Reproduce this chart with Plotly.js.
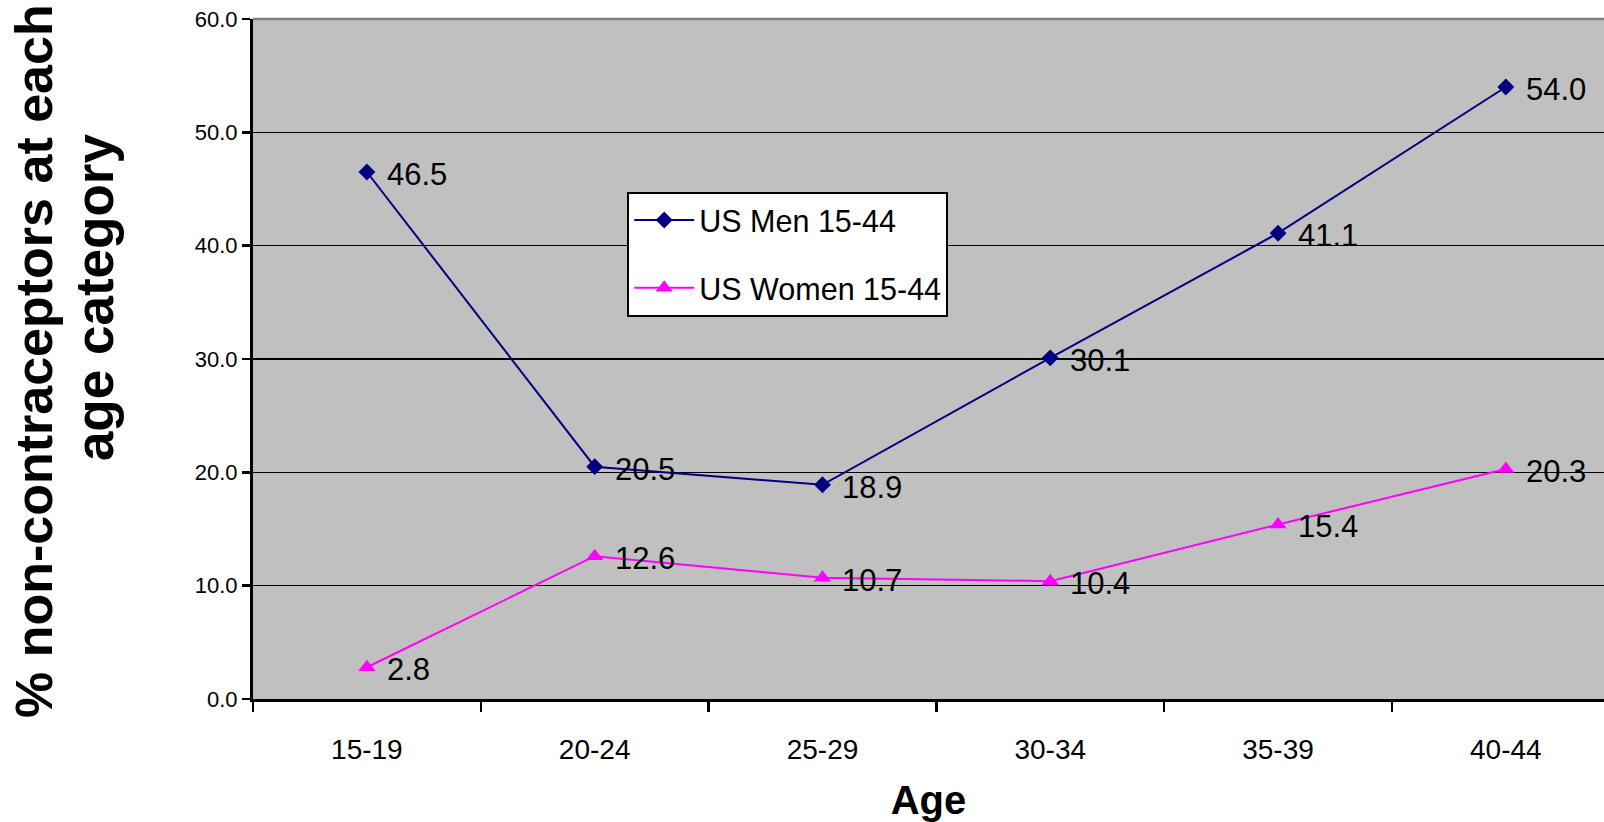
<!DOCTYPE html>
<html>
<head>
<meta charset="utf-8">
<script src="https://cdn.plot.ly/plotly-3.0.1.min.js"></script>
<style>html,body{margin:0;padding:0;background:#fff;}#chart{width:1604px;height:822px;}</style>
</head>
<body>
<div id="chart"></div>
<script>
const ageGroups = ["15-19", "20-24", "25-29", "30-34", "35-39", "40-44"];
const menValues = [46.5, 20.5, 18.9, 30.1, 41.1, 54.0];
const womenValues = [2.8, 12.6, 10.7, 10.4, 15.4, 20.3];
const seriesNames = ["US Men 15-44", "US Women 15-44"];
const yTitleLines = ["% non-contraceptors at each", "age category"];
const xTitle = "Age";

const FONT = "Liberation Sans, Arial, Helvetica, sans-serif";

const traces = [
  {
    x: ageGroups, y: menValues, name: seriesNames[0], type: "scatter", mode: "lines+markers",
    legendgroup: "men",
    line: {color: "#000080", width: 2},
    marker: {symbol: "diamond", size: 13, color: "#000080"}
  },
  {
    x: ageGroups, y: womenValues, name: seriesNames[1], type: "scatter", mode: "lines+markers",
    legendgroup: "women",
    line: {color: "#FF00FF", width: 2},
    marker: {symbol: "triangle-up", size: 15, color: "#FF00FF"}
  }
];

const annotations = [];
[menValues, womenValues].forEach(vals => {
  vals.forEach((v, i) => {
    annotations.push({
      x: ageGroups[i], y: v, xref: "x", yref: "y",
      text: v.toFixed(1), showarrow: false,
      xanchor: "left", yanchor: "middle", xshift: 18, yshift: -2.5,
      font: {family: FONT, size: 31, color: "#000"}
    });
  });
});
// y-axis title lines
annotations.push({
  xref: "paper", yref: "paper", x: -0.1621, y: 0.497, text: "<b>" + yTitleLines[0] + "</b>",
  showarrow: false, textangle: -90, xanchor: "center", yanchor: "middle",
  font: {family: FONT, size: 52, color: "#000"}
});
annotations.push({
  xref: "paper", yref: "paper", x: -0.1177, y: 0.591, text: "<b>" + yTitleLines[1] + "</b>",
  showarrow: false, textangle: -90, xanchor: "center", yanchor: "middle",
  font: {family: FONT, size: 53, color: "#000"}
});

const layout = {
  width: 1604, height: 822,
  margin: {l: 253, r: 0, t: 19, b: 123, pad: 0},
  paper_bgcolor: "#ffffff",
  plot_bgcolor: "#C0C0C0",
  showlegend: true,
  legend: {
    x: 0.277, y: 0.746, xanchor: "left", yanchor: "top",
    bgcolor: "#ffffff", bordercolor: "#000000", borderwidth: 2,
    font: {family: FONT, size: 30.5, color: "#000"},
    tracegroupgap: 25, itemwidth: 60, traceorder: "grouped",
    entrywidth: 255, entrywidthmode: "pixels"
  },
  xaxis: {
    type: "category", range: [-0.5, 5.431], tickson: "boundaries",
    showgrid: false, zeroline: false,
    showline: true, linecolor: "#000", linewidth: 3,
    ticks: "outside", ticklen: 10, tickwidth: 2.5, tickcolor: "#000",
    ticklabelstandoff: 23,
    tickfont: {family: FONT, size: 28, color: "#000"},
    title: {text: "<b>" + xTitle + "</b>", font: {family: FONT, size: 40, color: "#000"}, standoff: 30}
  },
  yaxis: {
    range: [0, 60], dtick: 10, tick0: 0, tickformat: ".1f",
    showgrid: true, gridcolor: "#000", gridwidth: 1.5,
    zeroline: false,
    showline: true, linecolor: "#000", linewidth: 3,
    ticks: "outside", ticklen: 8, tickwidth: 2.5, tickcolor: "#000",
    tickfont: {family: FONT, size: 22, color: "#000"}
  },
  shapes: [
    {type: "line", xref: "paper", yref: "paper", x0: 0, x1: 1, y0: 1, y1: 1,
     line: {color: "#808080", width: 2.5}}
  ],
  annotations: annotations
};

Plotly.newPlot("chart", traces, layout, {staticPlot: true, displayModeBar: false});
</script>
</body>
</html>
